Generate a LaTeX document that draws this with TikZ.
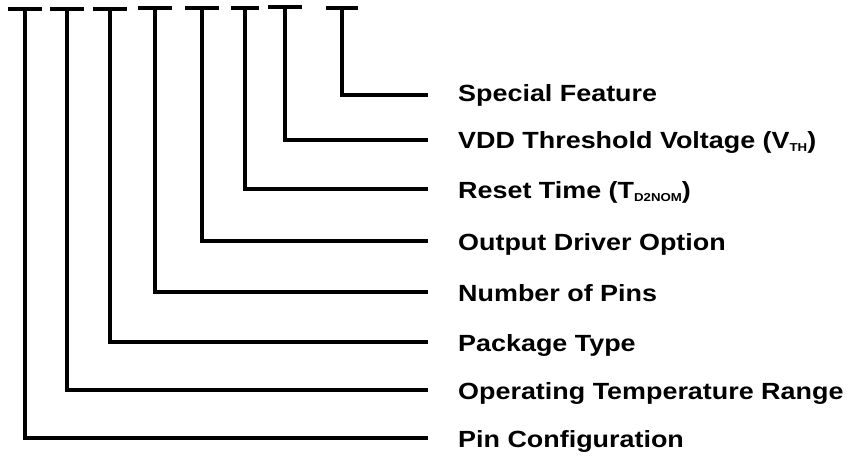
\documentclass[tikz,border=0pt]{standalone}
\usepackage{fontspec}
\newfontfamily\lblfont[FakeStretch=1.15]{Liberation Sans}
\newcommand{\lowsub}[1]{\raisebox{-3.6pt}{\fontsize{11.5}{12}\selectfont #1}}
\tikzset{
  lbl/.style={anchor=base west, inner sep=0pt, font=\fontsize{23.4}{26}\lblfont\bfseries},
  bar/.style={line width=4pt}
}
\begin{document}
\begin{tikzpicture}[x=1pt,y=-1pt]
      \useasboundingbox (0,0) rectangle (850,455);
      % top markers
      \coordinate (t0) at (25,9);
      \coordinate (t1) at (67,9);
      \coordinate (t2) at (110,9);
      \coordinate (t3) at (155,8);
      \coordinate (t4) at (202,8);
      \coordinate (t5) at (245,8);
      \coordinate (t6) at (285,7);
      \coordinate (t7) at (342,8);
      % line ends
      \coordinate (e0) at (428,438);
      \coordinate (e1) at (428,390);
      \coordinate (e2) at (428,342);
      \coordinate (e3) at (428,292);
      \coordinate (e4) at (428,241);
      \coordinate (e5) at (428,189);
      \coordinate (e6) at (428,140);
      \coordinate (e7) at (428,95);
      % labels
      \node[lbl] (pin) at (458,447) {Pin Configuration};
      \node[lbl] (temp) at (458,399) {Operating Temperature Range};
      \node[lbl] (pkg) at (458,351) {Package Type};
      \node[lbl] (num) at (458,301) {Number of Pins};
      \node[lbl] (drv) at (458,250) {Output Driver Option};
      \node[lbl] (rst) at (458,198) {Reset Time (T\lowsub{D2NOM})};
      \node[lbl] (vth) at (458,148) {VDD Threshold Voltage (V\lowsub{TH})};
      \node[lbl] (spc) at (458,101) {Special Feature};
      \begin{scope}[bar]
        \draw (t0) ++(-17,0) -- ++(34,0);
        \draw (t1) ++(-17,0) -- ++(34,0);
        \draw (t2) ++(-17,0) -- ++(34,0);
        \draw (t3) ++(-17,0) -- ++(34,0);
        \draw (t4) ++(-17,0) -- ++(34,0);
        \draw (t5) ++(-14,0) -- ++(28,0);
        \draw (t6) ++(-17,0) -- ++(34,0);
        \draw (t7) ++(-16,0) -- ++(32,0);
        \draw (t0) |- (e0);
        \draw (t1) |- (e1);
        \draw (t2) |- (e2);
        \draw (t3) |- (e3);
        \draw (t4) |- (e4);
        \draw (t5) |- (e5);
        \draw (t6) |- (e6);
        \draw (t7) |- (e7);
      \end{scope}
    \end{tikzpicture}
\end{document}
